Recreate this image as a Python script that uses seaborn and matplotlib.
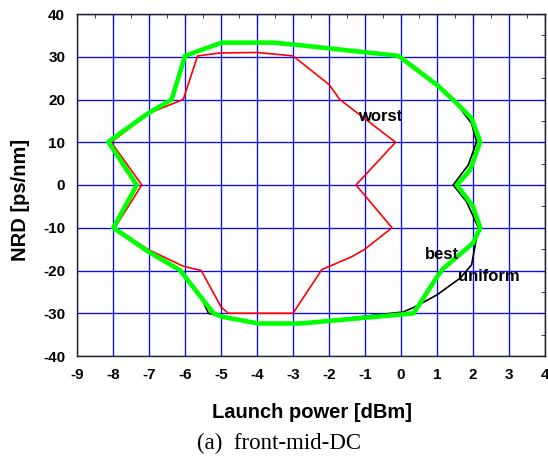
import seaborn as sns
import matplotlib.pyplot as plt
from matplotlib.ticker import MultipleLocator

# data (launch power in dBm, NRD in ps/nm)
worst_x = [-5.65, -5.0, -4.0, -3.5, -3.0, -2.0, -1.7, -0.15, -1.25, -0.25, -1.0, -1.35,
           -2.2, -3.0, -4.8, -5.0, -5.55, -6.05, -7.0, -7.95, -7.2, -8.05, -7.0, -6.05, -5.65]
worst_y = [30.2, 30.9, 31.0, 30.6, 30.2, 23.5, 20.0, 10.0, 0.0, -10.0, -15.0, -16.7,
           -19.8, -30.0, -30.0, -28.5, -20.0, -19.0, -15.2, -10.0, 0.0, 10.0, 16.8, 20.0, 30.2]

best_x = [-6.0, -4.98, -3.55, -2.8, -0.07, 1.0, 1.5, 1.96, 2.2, 1.92, 1.55, 2.0, 2.2, 2.0,
          1.18, 1.0, 0.35, 0.0, -2.8, -3.96, -4.98, -5.21, -6.14, -7.02, -7.99, -7.34,
          -8.13, -7.02, -6.37, -6.0]
best_y = [30.2, 33.3, 33.3, 32.7, 30.2, 23.4, 19.5, 15.6, 10.1, 3.5, 0.0, -5.0, -10.0, -13.6,
          -19.5, -21.5, -30.0, -30.3, -32.4, -32.4, -30.8, -30.0, -19.9, -15.6, -10.0, 0.0,
          10.1, 16.8, 20.0, 30.2]

uniform_x = [-6.0, -4.98, -3.55, -2.8, -0.07, 1.0, 1.5, 1.96, 2.1, 1.87, 1.45, 1.82, 2.15,
             1.96, 1.64, 1.0, 0.39, 0.06, -2.8, -3.96, -4.98, -5.35, -5.58, -6.14, -7.02,
             -7.99, -7.34, -8.13, -7.02, -6.37, -6.0]
uniform_y = [30.2, 33.3, 33.3, 32.7, 30.2, 23.4, 19.5, 14.4, 10.1, 4.7, 0.0, -3.9, -10.0,
             -18.7, -21.8, -25.7, -28.5, -29.7, -32.4, -32.4, -30.8, -30.0, -25.7, -19.9,
             -15.6, -10.0, 0.0, 10.1, 16.8, 20.0, 30.2]

x_ticks = list(range(-9, 5))
y_ticks = list(range(-40, 41, 10))

sns.set_style("white")
plt.rcParams['font.family'] = ['Liberation Sans', 'DejaVu Sans']
plt.rcParams['font.weight'] = 'bold'
plt.rcParams['axes.unicode_minus'] = False
plt.rcParams['text.color'] = 'black'
plt.rcParams['axes.labelcolor'] = 'black'

fig = plt.figure(figsize=(5.48, 4.59), dpi=100)
ax = fig.add_axes([77 / 548, 1 - 356 / 459, 468 / 548, 342 / 459])

sns.lineplot(x=worst_x, y=worst_y, sort=False, estimator=None, ax=ax,
             color='#ff0000', lw=1.2, zorder=3)
sns.lineplot(x=uniform_x, y=uniform_y, sort=False, estimator=None, ax=ax,
             color='black', lw=1.2, zorder=4)
sns.lineplot(x=best_x, y=best_y, sort=False, estimator=None, ax=ax,
             color='#00ff00', lw=3.3, zorder=5, solid_joinstyle='round')

ax.set_xlim(-9, 4)
ax.set_ylim(-40, 40)
ax.set_xticks(x_ticks)
ax.set_yticks(y_ticks)
ax.xaxis.set_minor_locator(MultipleLocator(0.5))
ax.yaxis.set_minor_locator(MultipleLocator(5))
ax.grid(True, which='major', color='#0a0aff', lw=0.95, zorder=1)
ax.set_axisbelow(True)

for s in ax.spines.values():
    s.set_color('#222222')
    s.set_linewidth(1.0)

ax.tick_params(which='major', direction='out', length=5, width=1, labelsize=11, colors='#222222')
ax.tick_params(which='minor', direction='out', length=3, width=1, colors='#222222')
for lab in ax.get_xticklabels() + ax.get_yticklabels():
    lab.set_fontweight('bold')
    lab.set_color('black')

# mirrored inward ticks on top and right
top = ax.secondary_xaxis('top')
top.set_xticks(x_ticks)
top.xaxis.set_minor_locator(MultipleLocator(0.5))
top.tick_params(which='major', direction='in', length=5, labeltop=False, colors='#222222')
top.tick_params(which='minor', direction='in', length=3, colors='#222222')
right = ax.secondary_yaxis('right')
right.set_yticks(y_ticks)
right.yaxis.set_minor_locator(MultipleLocator(5))
right.tick_params(which='major', direction='in', length=5, labelright=False, colors='#222222')
right.tick_params(which='minor', direction='in', length=3, colors='#222222')

ax.set_xlabel('Launch power [dBm]', fontsize=14.5, fontweight='bold', va='center')
ax.xaxis.set_label_coords(0.502, -0.164)
ax.set_ylabel('NRD [ps/nm]', fontsize=14.5, fontweight='bold', va='center')
ax.yaxis.set_label_coords(-0.12, 0.456)

ax.text(-0.58, 16.1, 'worst', fontsize=12, fontweight='bold', ha='center', va='center', zorder=6)
ax.text(1.14, -16.3, 'best', fontsize=12, fontweight='bold', ha='center', va='center', zorder=6)
ax.text(2.44, -21.4, 'uniform', fontsize=12, fontweight='bold', ha='center', va='center', zorder=6)

fig.text(279 / 548, 1 - 443 / 459, '(a)  front-mid-DC', fontsize=16.5, fontweight='normal',
         family=['Liberation Serif', 'DejaVu Serif'], ha='center', va='center')

fig.savefig('out.png', dpi=100)
